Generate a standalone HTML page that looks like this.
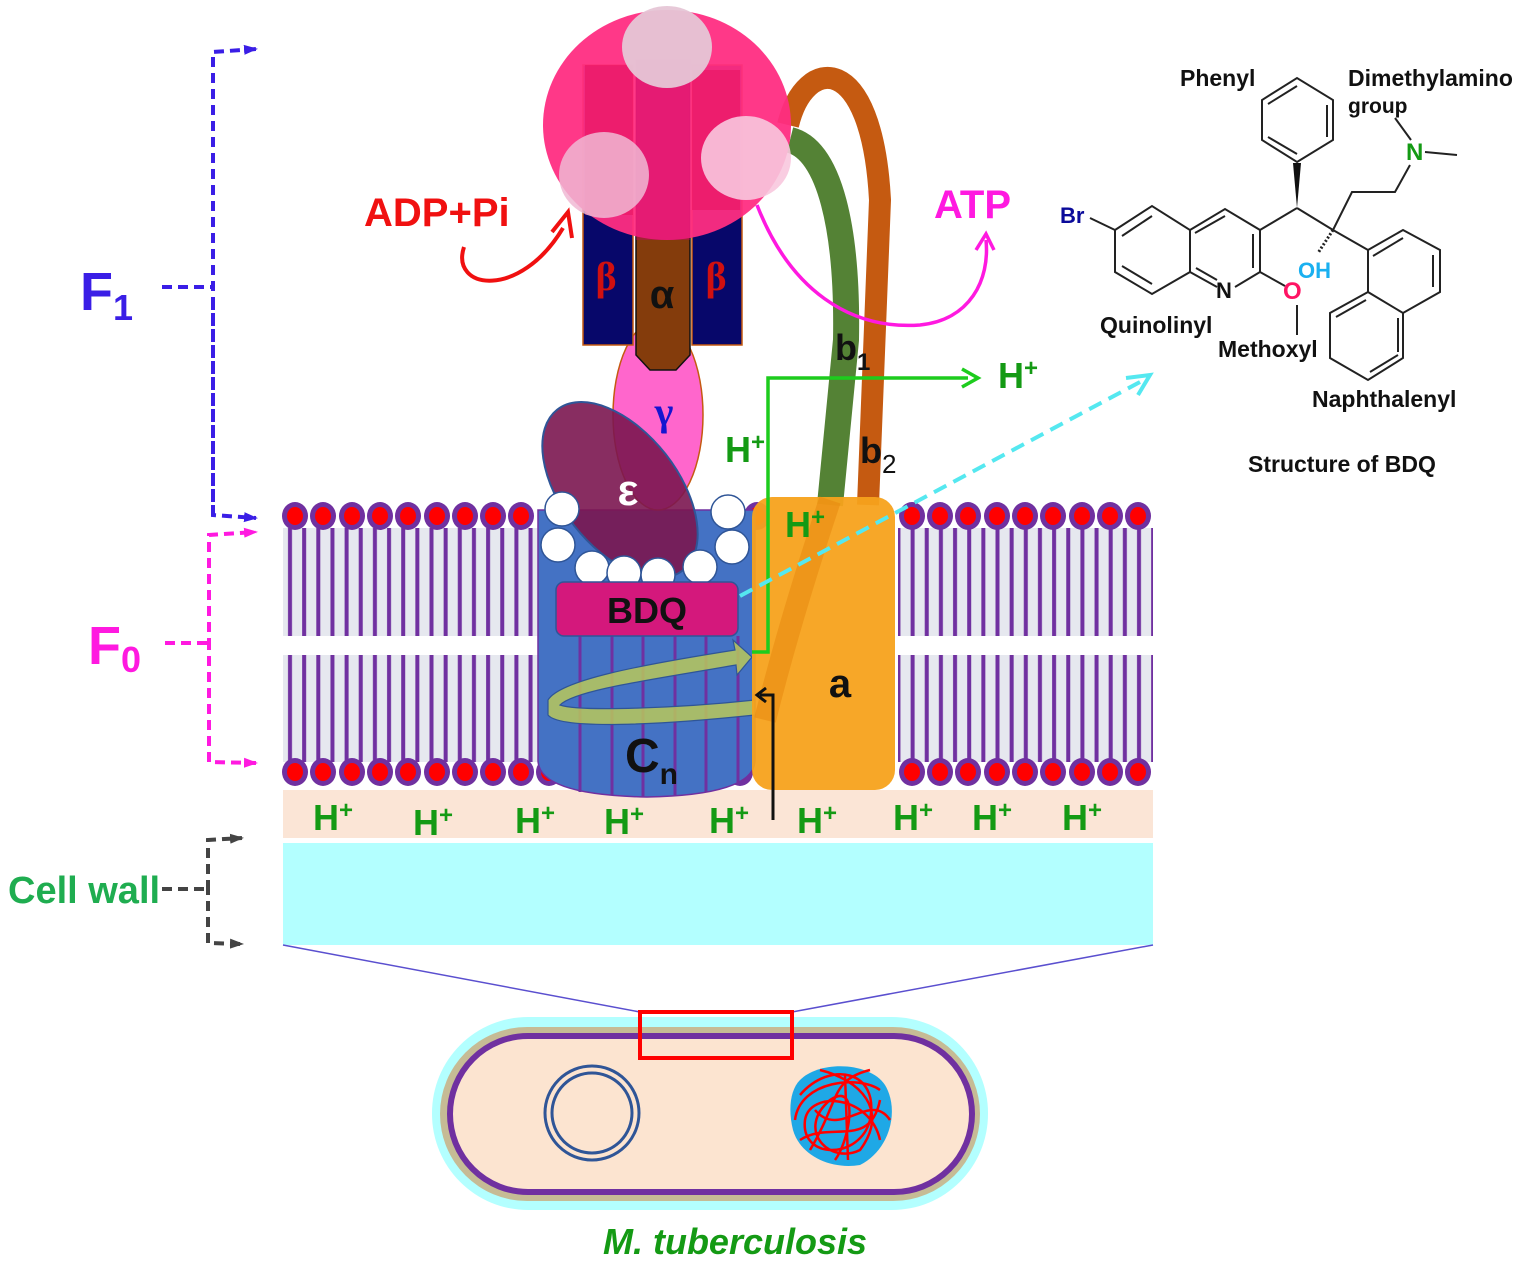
<!DOCTYPE html>
<html><head><meta charset="utf-8"><style>
html,body{margin:0;padding:0;background:#fff;}
svg{display:block;font-family:"Liberation Sans",Arial,sans-serif;}
</style></head><body>
<svg width="1535" height="1268" viewBox="0 0 1535 1268" xmlns="http://www.w3.org/2000/svg">
<defs>
<pattern id="tails" x="0" y="0" width="14.15" height="10" patternUnits="userSpaceOnUse">
<rect width="14.15" height="10" fill="#e6e8ef"/>
<rect x="5" y="0" width="4" height="10" fill="#7030a0"/>
</pattern>
<g id="hd"><ellipse cx="0" cy="0" rx="13" ry="14" fill="#7030a0"/><ellipse cx="0" cy="0" rx="8" ry="9" fill="#ff0000"/></g>
<marker id="ab" markerWidth="14" markerHeight="12" refX="12" refY="6" orient="auto" markerUnits="userSpaceOnUse"><path d="M0,1 L14,6 L0,11 Z" fill="#3a1ee6"/></marker>
<marker id="am" markerWidth="14" markerHeight="12" refX="12" refY="6" orient="auto" markerUnits="userSpaceOnUse"><path d="M0,1 L14,6 L0,11 Z" fill="#ff19e0"/></marker>
<marker id="ag" markerWidth="14" markerHeight="12" refX="12" refY="6" orient="auto" markerUnits="userSpaceOnUse"><path d="M0,1 L14,6 L0,11 Z" fill="#444"/></marker>
</defs>

<!-- Left brackets -->
<g fill="none" stroke-width="4" stroke-dasharray="10,6">
<path d="M213 515 L213 52 L256 49" stroke="#3a1ee6" marker-end="url(#ab)"/>
<path d="M213 300 L213 515 L256 518" stroke="#3a1ee6" marker-end="url(#ab)"/>
<path d="M162 287 L213 287" stroke="#3a1ee6"/>
<path d="M209 648 L209 535 L256 532" stroke="#ff19e0" marker-end="url(#am)"/>
<path d="M209 640 L209 762 L256 763" stroke="#ff19e0" marker-end="url(#am)"/>
<path d="M165 643 L209 643" stroke="#ff19e0"/>
<path d="M208 890 L208 840 L242 838" stroke="#444" marker-end="url(#ag)"/>
<path d="M208 885 L208 943 L242 944" stroke="#444" marker-end="url(#ag)"/>
<path d="M162 889 L208 889" stroke="#444"/>
</g>
<text x="80" y="310" font-size="54" font-weight="bold" fill="#3a1ee6">F<tspan font-size="36" dy="10">1</tspan></text>
<text x="88" y="664" font-size="54" font-weight="bold" fill="#ff19e0">F<tspan font-size="36" dy="8">0</tspan></text>
<text x="8" y="903" font-size="38" font-weight="bold" fill="#1fad50">Cell wall</text>

<!-- membrane tails -->
<rect x="283" y="528" width="255" height="108" fill="url(#tails)"/>
<rect x="283" y="655" width="255" height="107" fill="url(#tails)"/>
<rect x="898" y="528" width="255" height="108" fill="url(#tails)"/>
<rect x="898" y="655" width="255" height="107" fill="url(#tails)"/>

<!-- periplasm band and cell wall -->
<rect x="283" y="790" width="870" height="48" fill="#fbe5d6"/>
<rect x="283" y="843" width="870" height="102" fill="#b3ffff"/>
<line x1="283" y1="945" x2="640" y2="1012" stroke="#5a4fcf" stroke-width="1.5"/>
<line x1="1153" y1="945" x2="792" y2="1012" stroke="#5a4fcf" stroke-width="1.5"/>

<!-- heads -->
<g>
<use href="#hd" x="295" y="516"/><use href="#hd" x="323" y="516"/><use href="#hd" x="352" y="516"/><use href="#hd" x="380" y="516"/><use href="#hd" x="408" y="516"/><use href="#hd" x="437" y="516"/><use href="#hd" x="465" y="516"/><use href="#hd" x="493" y="516"/><use href="#hd" x="521" y="516"/><use href="#hd" x="757" y="516"/>
<use href="#hd" x="912" y="516"/><use href="#hd" x="940" y="516"/><use href="#hd" x="968" y="516"/><use href="#hd" x="997" y="516"/><use href="#hd" x="1025" y="516"/><use href="#hd" x="1053" y="516"/><use href="#hd" x="1082" y="516"/><use href="#hd" x="1110" y="516"/><use href="#hd" x="1138" y="516"/>
<use href="#hd" x="295" y="772"/><use href="#hd" x="323" y="772"/><use href="#hd" x="352" y="772"/><use href="#hd" x="380" y="772"/><use href="#hd" x="408" y="772"/><use href="#hd" x="437" y="772"/><use href="#hd" x="465" y="772"/><use href="#hd" x="493" y="772"/><use href="#hd" x="521" y="772"/><use href="#hd" x="549" y="772"/><use href="#hd" x="740" y="772"/>
<use href="#hd" x="912" y="772"/><use href="#hd" x="940" y="772"/><use href="#hd" x="968" y="772"/><use href="#hd" x="997" y="772"/><use href="#hd" x="1025" y="772"/><use href="#hd" x="1053" y="772"/><use href="#hd" x="1082" y="772"/><use href="#hd" x="1110" y="772"/><use href="#hd" x="1138" y="772"/>
</g>

<!-- stalks b2 / b1 -->
<path d="M788 125 C805 55, 872 50, 880 200 L868 505" fill="none" stroke="#c55a11" stroke-width="22"/>
<path d="M790 140 C830 150, 848 230, 846 340 L830 505" fill="none" stroke="#548235" stroke-width="26"/>

<!-- c ring -->
<path d="M538 510 L755 510 L755 760 Q755 795 647 797 Q538 795 538 760 Z" fill="#4472c4" stroke="#7030a0" stroke-width="1.5"/>
<g stroke="#7030a0" stroke-width="3">
<line x1="580" y1="636" x2="580" y2="792"/><line x1="612" y1="636" x2="612" y2="795"/><line x1="643" y1="636" x2="643" y2="797"/><line x1="675" y1="636" x2="675" y2="795"/><line x1="706" y1="636" x2="706" y2="792"/><line x1="738" y1="636" x2="738" y2="785"/>
</g>

<!-- gamma -->
<ellipse cx="658" cy="415" rx="45" ry="95" fill="#ff66cc" stroke="#c55a11" stroke-width="1.5"/>
<text x="664" y="425" font-size="40" font-weight="bold" fill="#1515d0" text-anchor="middle" font-family="Liberation Serif,serif">γ</text>

<!-- epsilon -->
<ellipse cx="620" cy="490" rx="58" ry="102" transform="rotate(-38 620 490)" fill="#7b1650" fill-opacity="0.9" stroke="#2f5597" stroke-width="2"/>
<text x="628" y="505" font-size="44" font-weight="bold" fill="#fff" text-anchor="middle">ε</text>

<!-- white circles -->
<g fill="#fff" stroke="#2f5597" stroke-width="1.5">
<circle cx="562" cy="509" r="17"/><circle cx="558" cy="545" r="17"/><circle cx="592" cy="568" r="17"/><circle cx="624" cy="573" r="17"/><circle cx="658" cy="575" r="17"/><circle cx="700" cy="567" r="17"/><circle cx="728" cy="512" r="17"/><circle cx="732" cy="547" r="17"/>
</g>

<!-- BDQ -->
<rect x="556" y="582" width="182" height="54" rx="8" fill="#d4187c" stroke="#2f5597" stroke-width="1.5"/>
<text x="647" y="623" font-size="36" font-weight="bold" text-anchor="middle" fill="#111">BDQ</text>

<!-- spiral arrow -->
<path d="M548 700 C560 680, 640 665, 735 650 L733 640 L752 657 L737 675 L736 665 C650 680, 575 690, 560 705 C580 712, 680 708, 755 700 L755 715 C660 725, 560 730, 548 715 Z" fill="#b8c85a" fill-opacity="0.85" stroke="#2f5597" stroke-width="1.2"/>
<text x="625" y="772" font-size="48" font-weight="bold" fill="#111">C<tspan font-size="30" dy="12">n</tspan></text>

<!-- a subunit -->
<rect x="752" y="497" width="143" height="293" rx="20" fill="#f7a21c" fill-opacity="0.95"/>
<path d="M830 500 Q790 620 765 720" fill="none" stroke="#e88a10" stroke-width="22" opacity="0.6"/>
<text x="840" y="697" font-size="40" font-weight="bold" fill="#111" text-anchor="middle">a</text>

<!-- F1 head -->
<g>
<rect x="583" y="65" width="50" height="280" fill="#07076a" stroke="#c55a11" stroke-width="1.5"/>
<rect x="692" y="65" width="50" height="280" fill="#07076a" stroke="#c55a11" stroke-width="1.5"/>
<path d="M636 60 L690 60 L690 355 L676 370 L650 370 L636 355 Z" fill="#843c0c" stroke="#111" stroke-width="1.5"/>
<ellipse cx="667" cy="125" rx="124" ry="115" fill="#ff2d82" fill-opacity="0.95"/>
<rect x="585" y="65" width="48" height="150" fill="#e8105a" fill-opacity="0.5"/>
<rect x="636" y="60" width="54" height="180" fill="#c8006a" fill-opacity="0.4"/>
<rect x="692" y="70" width="48" height="140" fill="#e8105a" fill-opacity="0.5"/>
<ellipse cx="667" cy="47" rx="45" ry="41" fill="#e6c6d6" fill-opacity="0.95"/>
<ellipse cx="604" cy="175" rx="45" ry="43" fill="#f0b8d4" fill-opacity="0.85"/>
<ellipse cx="746" cy="158" rx="45" ry="42" fill="#f8c8de" fill-opacity="0.9"/>
<text x="606" y="290" font-size="40" font-weight="bold" fill="#d01010" text-anchor="middle" font-family="Liberation Serif,serif">β</text>
<text x="716" y="290" font-size="40" font-weight="bold" fill="#d01010" text-anchor="middle" font-family="Liberation Serif,serif">β</text>
<text x="662" y="308" font-size="40" font-weight="bold" fill="#111" text-anchor="middle">α</text>
</g>

<!-- ADP / ATP -->
<text x="364" y="226" font-size="40" font-weight="bold" fill="#f01010">ADP+Pi</text>
<path d="M464 247 C450 290, 520 300, 563 228" fill="none" stroke="#f01010" stroke-width="4"/>
<path d="M552 232 L568 212 L572 238" fill="none" stroke="#f01010" stroke-width="4"/>
<text x="934" y="218" font-size="40" font-weight="bold" fill="#ff19e0">ATP</text>
<path d="M757 205 C790 290, 850 330, 920 325 C970 320, 990 280, 986 240" fill="none" stroke="#ff19e0" stroke-width="3.5"/>
<path d="M976 250 L986 234 L994 250" fill="none" stroke="#ff19e0" stroke-width="3.5"/>

<!-- green H+ path -->
<path d="M752 652 L768 652 L768 378 L968 378" fill="none" stroke="#1dcc1d" stroke-width="3.5"/>
<path d="M962 369 L978 378 L962 387" fill="none" stroke="#1dcc1d" stroke-width="3.5"/>
<text x="998" y="388" font-size="36" font-weight="bold" fill="#149a14">H<tspan font-size="24" dy="-12">+</tspan></text>
<text x="725" y="462" font-size="36" font-weight="bold" fill="#149a14">H<tspan font-size="24" dy="-12">+</tspan></text>
<text x="785" y="537" font-size="36" font-weight="bold" fill="#149a14">H<tspan font-size="24" dy="-12">+</tspan></text>
<text x="835" y="360" font-size="36" font-weight="bold" fill="#111">b<tspan font-size="24" dy="10">1</tspan></text>
<text x="860" y="463" font-size="36" font-weight="bold" fill="#111">b<tspan font-size="26" dy="10" font-weight="normal">2</tspan></text>

<!-- cyan dashed -->
<line x1="740" y1="596" x2="1140" y2="382" stroke="#55e8f0" stroke-width="4" stroke-dasharray="14,8"/>
<path d="M1126 378 L1150 375 L1138 395" fill="none" stroke="#55e8f0" stroke-width="4"/>

<!-- black arrow -->
<path d="M773 820 L773 695 L760 695" fill="none" stroke="#111" stroke-width="3"/>
<path d="M766 688 L757 695 L766 702" fill="none" stroke="#111" stroke-width="3"/>

<!-- H+ band -->
<g font-size="36" font-weight="bold" fill="#149a14">
<text x="313" y="830">H<tspan font-size="24" dy="-12">+</tspan></text>
<text x="413" y="835">H<tspan font-size="24" dy="-12">+</tspan></text>
<text x="515" y="833">H<tspan font-size="24" dy="-12">+</tspan></text>
<text x="604" y="834">H<tspan font-size="24" dy="-12">+</tspan></text>
<text x="709" y="833">H<tspan font-size="24" dy="-12">+</tspan></text>
<text x="797" y="833">H<tspan font-size="24" dy="-12">+</tspan></text>
<text x="893" y="830">H<tspan font-size="24" dy="-12">+</tspan></text>
<text x="972" y="830">H<tspan font-size="24" dy="-12">+</tspan></text>
<text x="1062" y="830">H<tspan font-size="24" dy="-12">+</tspan></text>
</g>

<!-- Cell -->
<rect x="432" y="1017" width="556" height="193" rx="96" fill="#b3ffff"/>
<rect x="440" y="1027" width="540" height="174" rx="87" fill="#c8b48a" opacity="0.9"/>
<rect x="450" y="1036" width="522" height="156" rx="78" fill="#fce4d0" stroke="#7030a0" stroke-width="6"/>
<rect x="640" y="1012" width="152" height="46" fill="none" stroke="#ff0000" stroke-width="4"/>
<circle cx="592" cy="1113" r="47" fill="none" stroke="#2f5597" stroke-width="3"/>
<circle cx="592" cy="1113" r="40" fill="none" stroke="#2f5597" stroke-width="3"/>
<path d="M800 1080 C820 1060, 870 1062, 885 1085 C900 1110, 890 1150, 860 1165 C830 1170, 800 1155, 793 1130 C788 1110, 790 1090, 800 1080 Z" fill="#1fa8e6"/>
<g fill="none" stroke="#ff0000" stroke-width="2.5">
<path d="M800 1095 C830 1060, 880 1070, 870 1120 C860 1160, 800 1160, 805 1120 C810 1090, 870 1095, 880 1140"/>
<path d="M820 1070 C860 1080, 890 1110, 860 1150 C830 1165, 795 1130, 830 1100 C860 1080, 850 1140, 835 1160"/>
<path d="M845 1075 L848 1160 M815 1110 C840 1140, 870 1090, 890 1120 M800 1140 C830 1120, 870 1150, 880 1100"/>
<path d="M795 1120 C800 1080, 860 1075, 880 1090 M810 1150 C840 1100, 830 1080, 870 1070"/>
</g>
<text x="735" y="1254" font-size="36" font-weight="bold" font-style="italic" fill="#149a14" text-anchor="middle">M. tuberculosis</text>

<!-- BDQ structure -->
<g fill="none" stroke="#222" stroke-width="2">
<polygon points="1115,230 1152,206 1190,230 1190,272 1152,294 1115,272"/>
<polyline points="1190,230 1225,209 1260,230 1260,272"/>
<line x1="1190" y1="272" x2="1217" y2="287"/>
<line x1="1235" y1="287" x2="1260" y2="272"/>
<line x1="1122" y1="236" x2="1152" y2="216"/><line x1="1122" y1="266" x2="1152" y2="284"/><line x1="1195" y1="233" x2="1225" y2="216"/><line x1="1253" y1="234" x2="1253" y2="268"/>
<line x1="1196" y1="268" x2="1217" y2="280"/>
<line x1="1090" y1="218" x2="1115" y2="230"/>
<line x1="1260" y1="230" x2="1297" y2="208"/>
<polygon points="1297,162 1333,140 1333,100 1297,78 1262,100 1262,140"/>
<line x1="1327" y1="105" x2="1327" y2="137"/><line x1="1268" y1="137" x2="1297" y2="154"/><line x1="1268" y1="104" x2="1297" y2="86"/>
<line x1="1297" y1="208" x2="1333" y2="230"/>
<polyline points="1333,230 1352,192 1395,192 1410,165"/>
<line x1="1425" y1="152" x2="1457" y2="155"/>
<line x1="1411" y1="140" x2="1395" y2="118"/>
<line x1="1260" y1="272" x2="1285" y2="286"/>
<line x1="1297" y1="305" x2="1297" y2="335"/>
<line x1="1333" y1="230" x2="1368" y2="250"/>
<polygon points="1368,250 1403,230 1440,250 1440,292 1403,313 1368,292"/>
<polyline points="1368,292 1330,313 1330,358 1368,380 1403,358 1403,313"/>
<line x1="1373" y1="256" x2="1403" y2="238"/><line x1="1433" y1="255" x2="1433" y2="287"/><line x1="1336" y1="317" x2="1366" y2="300"/><line x1="1370" y1="372" x2="1398" y2="355"/><line x1="1398" y1="318" x2="1398" y2="352"/>
<line x1="1333" y1="230" x2="1318" y2="253" stroke-dasharray="2,2" stroke-width="3"/>
</g>
<polygon points="1297,208 1293,163 1301,163" fill="#111"/>
<g font-weight="bold" font-size="23">
<text x="1060" y="223" fill="#0a0a9a" font-size="22">Br</text>
<text x="1216" y="298" fill="#111" font-size="22">N</text>
<text x="1283" y="299" fill="#ff1464" font-size="24">O</text>
<text x="1298" y="278" fill="#1ab0f0" font-size="22">OH</text>
<text x="1406" y="160" fill="#149a14" font-size="24">N</text>
<text x="1180" y="86" fill="#111">Phenyl</text>
<text x="1348" y="86" fill="#111">Dimethylamino</text>
<text x="1348" y="113" fill="#111" font-size="21">group</text>
<text x="1100" y="333" fill="#111">Quinolinyl</text>
<text x="1218" y="357" fill="#111">Methoxyl</text>
<text x="1312" y="407" fill="#111">Naphthalenyl</text>
<text x="1248" y="472" fill="#111">Structure of BDQ</text>
</g>
</svg>
</body></html>
